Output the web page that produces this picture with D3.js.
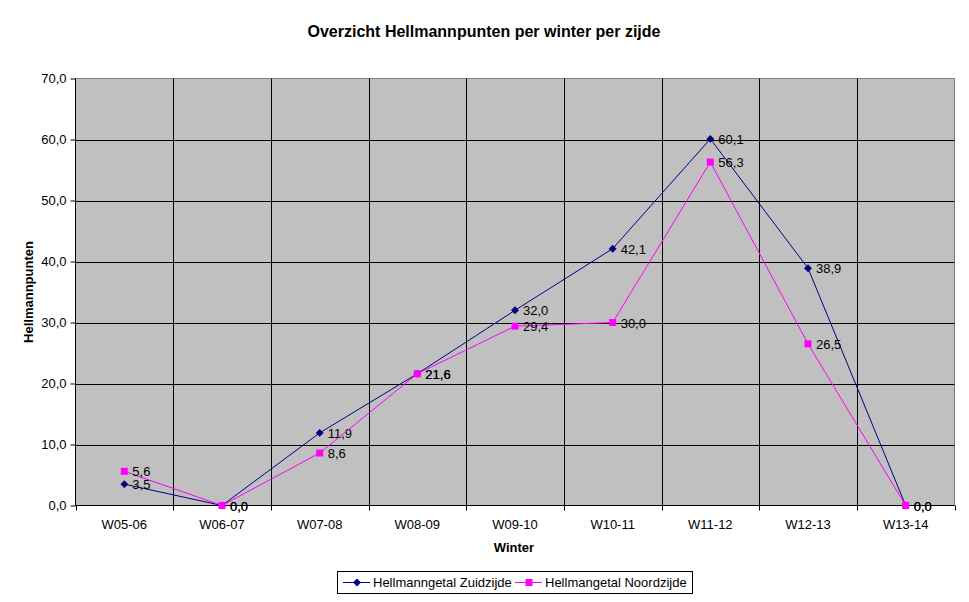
<!DOCTYPE html>
<html><head><meta charset="utf-8">
<script src="https://cdn.jsdelivr.net/npm/d3@7"></script>
<style>body{margin:0;background:#fff;}text{font-family:"Liberation Sans",Arial,sans-serif;}</style>
</head><body>
<svg id="c" width="969" height="602"></svg>
<script>
const categories = ["W05-06","W06-07","W07-08","W08-09","W09-10","W10-11","W11-12","W12-13","W13-14"];
const zuid = [3.5, 0.0, 11.9, 21.6, 32.0, 42.1, 60.1, 38.9, 0.0];
const noord = [5.6, 0.0, 8.6, 21.6, 29.4, 30.0, 56.3, 26.5, 0.0];
const yTicks = [0,10,20,30,40,50,60,70];
const seriesNames = ["Hellmanngetal Zuidzijde","Hellmangetal Noordzijde"];

const svg = d3.select("#c");
const L = 75.5, R = 954.5, T = 78.5, B = 505.5;
const x = d3.scaleBand().domain(categories).range([L, R]);
const y = d3.scaleLinear().domain([0,70]).range([B, T]);
const fmt = v => d3.format(".1f")(v).replace(".", ",");

svg.append("rect").attr("x", L).attr("y", T).attr("width", R-L).attr("height", B-T)
  .attr("fill", "#c0c0c0").attr("stroke", "#808080").attr("stroke-width", 1);

svg.append("g").selectAll("line").data(yTicks.slice(1,-1)).join("line")
  .attr("x1", L).attr("x2", R).attr("y1", d => Math.round(y(d))+0.5).attr("y2", d => Math.round(y(d))+0.5)
  .attr("stroke", "#000").attr("stroke-width", 1);
svg.append("g").selectAll("line").data(categories.slice(1)).join("line")
  .attr("x1", d => Math.round(x(d))+0.5).attr("x2", d => Math.round(x(d))+0.5).attr("y1", T).attr("y2", B)
  .attr("stroke", "#000").attr("stroke-width", 1);

const yAxis = d3.axisLeft(y).tickValues(yTicks).tickSize(5).tickPadding(4).tickFormat(fmt);
const gy = svg.append("g").attr("transform", `translate(${L},0)`).call(yAxis);
gy.selectAll("text").attr("font-size", 13).attr("fill", "#000").style("font-family", '"Liberation Sans",Arial,sans-serif');
gy.selectAll("line, path").attr("stroke", "#000");
gy.select("path").attr("d", `M0,${T}V${B}`);

const gx = svg.append("g").attr("transform", `translate(0,${B})`);
gx.append("line").attr("x1", L).attr("x2", R).attr("stroke", "#000");
const bounds = categories.map(c => x(c)).concat([R]);
gx.selectAll("line.t").data(bounds).join("line").attr("class","t")
  .attr("x1", d => Math.round(d)+0.5).attr("x2", d => Math.round(d)+0.5).attr("y1", 0).attr("y2", 5).attr("stroke", "#000");
gx.selectAll("text").data(categories).join("text")
  .attr("x", d => x(d) + x.bandwidth()/2).attr("y", 23).attr("text-anchor", "middle")
  .attr("font-size", 13).attr("fill", "#000").text(d => d);

svg.append("text").attr("x", 484).attr("y", 37).attr("text-anchor", "middle")
  .attr("font-size", 16).attr("font-weight", "bold").text("Overzicht Hellmannpunten per winter per zijde");
svg.append("text").attr("x", 514).attr("y", 552).attr("text-anchor", "middle")
  .attr("font-size", 13).attr("font-weight", "bold").text("Winter");
svg.append("text").attr("transform", "translate(33,292) rotate(-90)").attr("text-anchor", "middle")
  .attr("font-size", 13).attr("font-weight", "bold").text("Hellmannpunten");

const cx = c => x(c) + x.bandwidth()/2;
const line = d3.line().x((d,i) => cx(categories[i])).y(d => y(d));

function drawSeries(vals, color, shape) {
  const g = svg.append("g");
  g.append("path").attr("d", line(vals)).attr("fill", "none").attr("stroke", color).attr("stroke-width", 1);
  const sym = d3.symbol().type(shape === "diamond" ? d3.symbolDiamond2 : d3.symbolSquare)
    .size(shape === "diamond" ? 40 : 49);
  g.selectAll("path.m").data(vals).join("path").attr("class","m")
    .attr("transform", (d,i) => `translate(${cx(categories[i])},${y(d)})`)
    .attr("d", sym()).attr("fill", color);
  g.selectAll("text").data(vals).join("text")
    .attr("x", (d,i) => cx(categories[i]) + 8).attr("y", d => y(d) + 5)
    .attr("font-size", 13).attr("fill", "#000").text(fmt);
}
drawSeries(zuid, "#000080", "diamond");
drawSeries(noord, "#ff00ff", "square");

const lg = svg.append("g");
lg.append("rect").attr("x", 337.5).attr("y", 571.5).attr("width", 355).attr("height", 22)
  .attr("fill", "#fff").attr("stroke", "#000");
const items = [{name: seriesNames[0], color:"#000080", shape:"diamond", x:343, tx:373},
               {name: seriesNames[1], color:"#ff00ff", shape:"square", x:515, tx:545}];
items.forEach(it => {
  lg.append("line").attr("x1", it.x).attr("x2", it.x+27).attr("y1", 582.5).attr("y2", 582.5).attr("stroke", it.color);
  lg.append("path").attr("transform", `translate(${it.x+14},582.5)`)
    .attr("d", d3.symbol().type(it.shape==="diamond"?d3.symbolDiamond2:d3.symbolSquare).size(it.shape==="diamond"?40:49)())
    .attr("fill", it.color);
  lg.append("text").attr("x", it.tx).attr("y", 587).attr("font-size", 13).attr("fill", "#000").text(it.name);
});
</script>
</body></html>
